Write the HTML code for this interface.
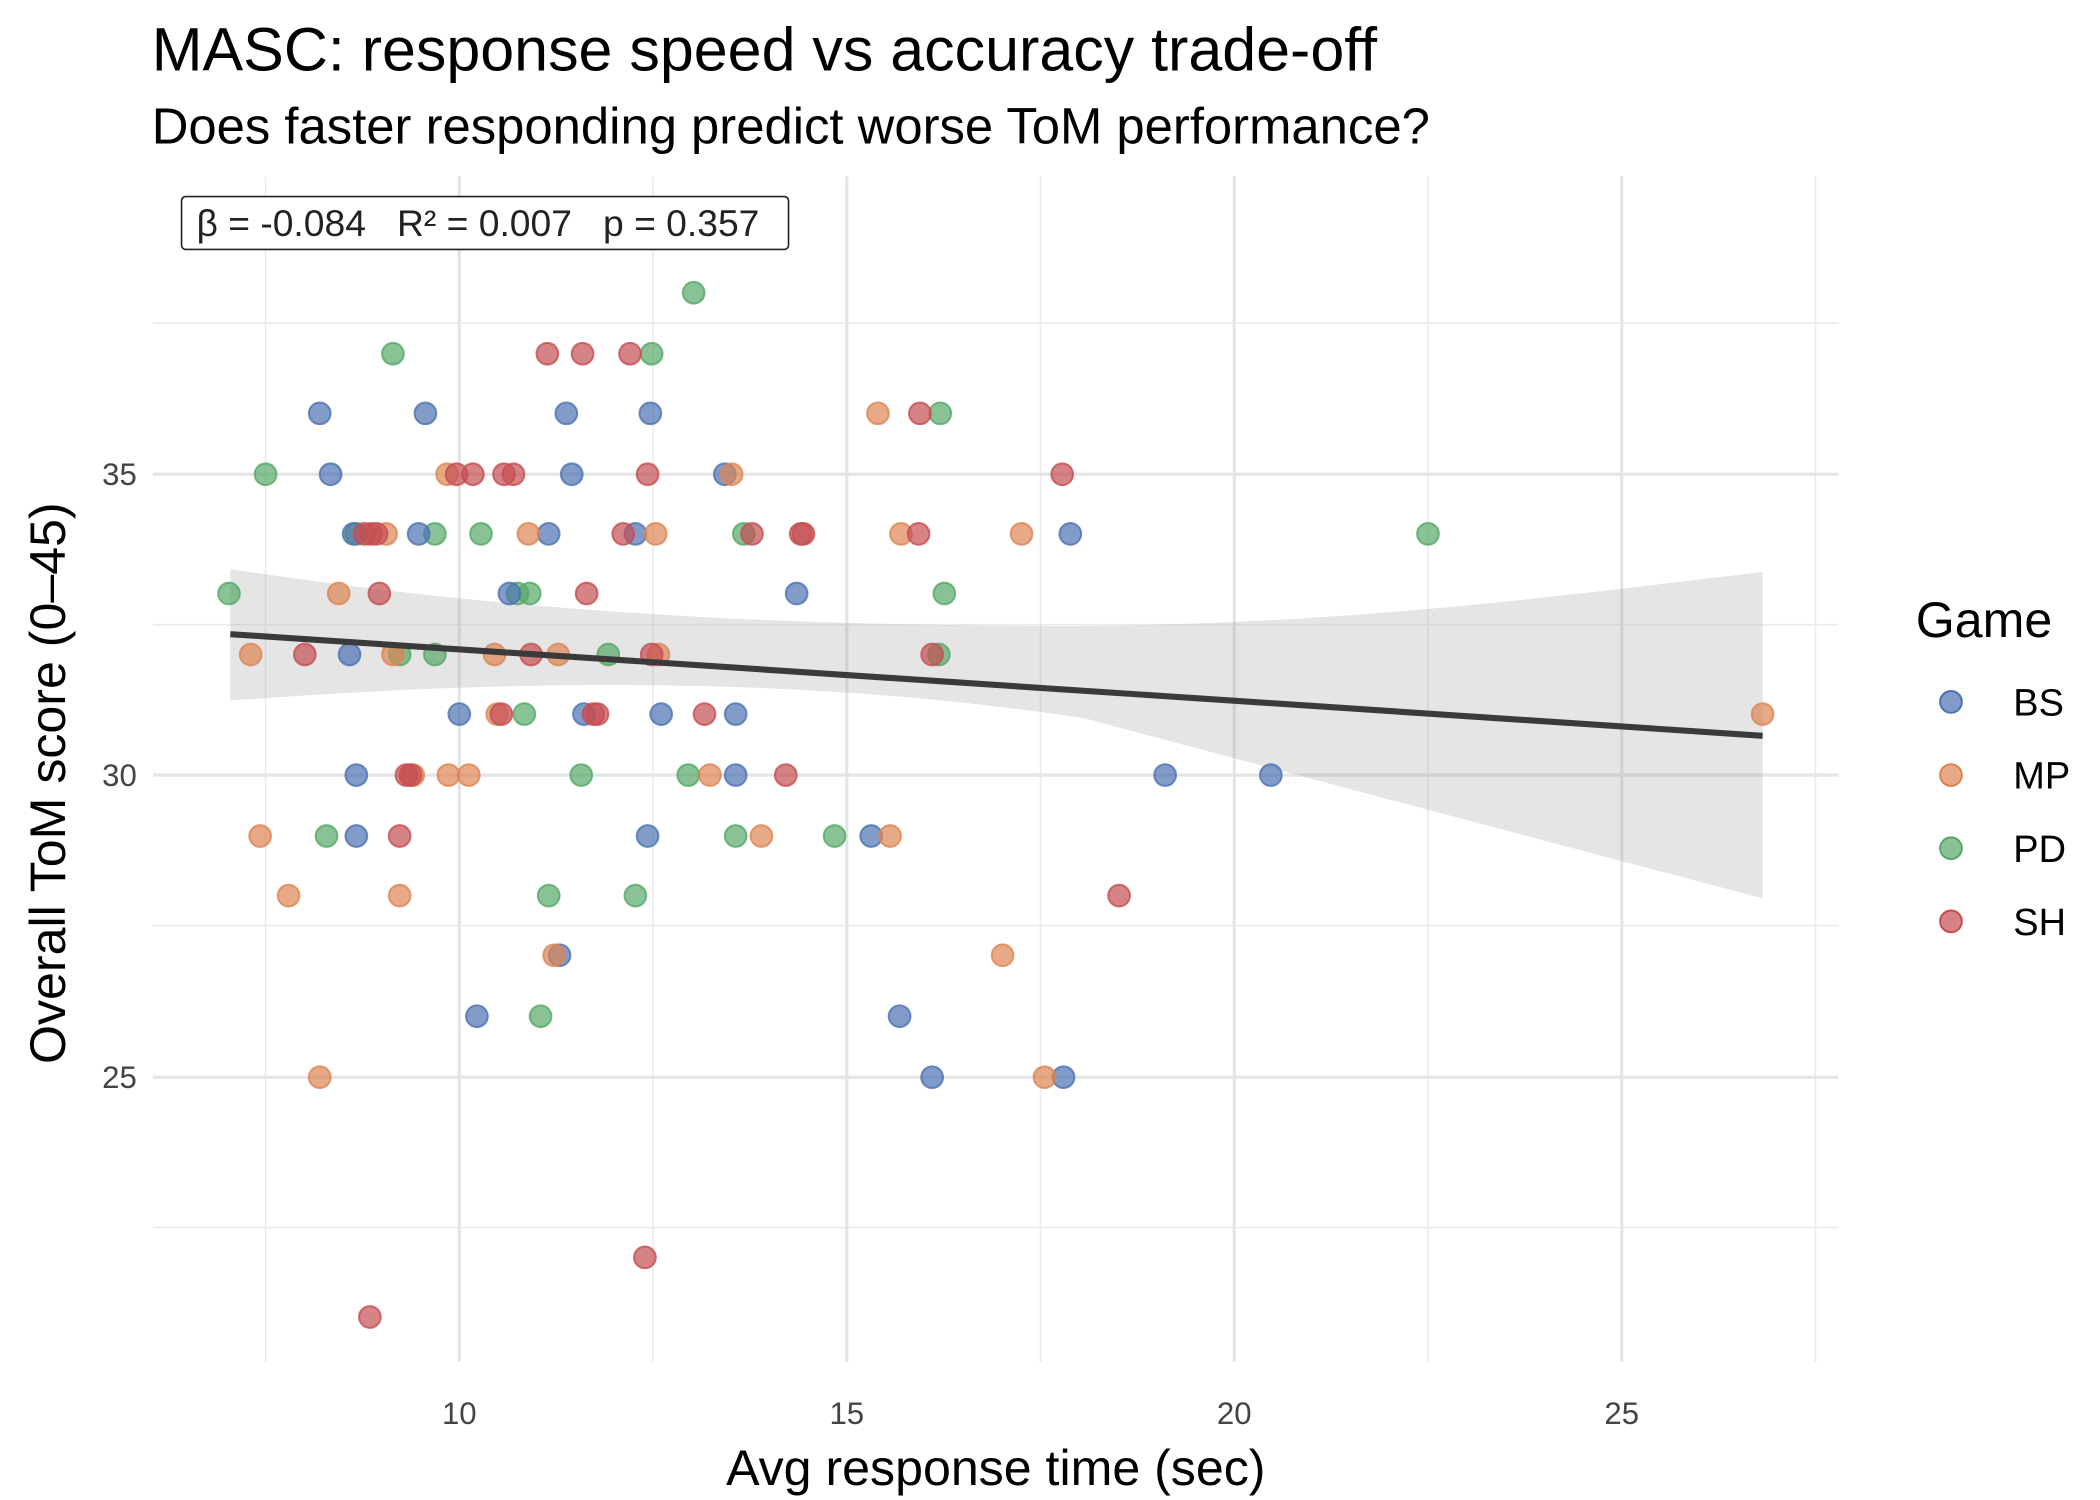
<!DOCTYPE html>
<html><head><meta charset="utf-8"><style>html,body{margin:0;padding:0;background:#fff}svg{display:block}</style></head>
<body>
<svg width="2100" height="1500" viewBox="0 0 1550 1107" xmlns="http://www.w3.org/2000/svg" font-family="Liberation Sans, Arial, sans-serif">
<rect width="1550" height="1107" fill="#fff"/>
<g stroke="#ebebeb" stroke-width="1.2">
<line x1="113" x2="1357" y1="238.5" y2="238.5"/><line x1="113" x2="1357" y1="461" y2="461"/><line x1="113" x2="1357" y1="683" y2="683"/><line x1="113" x2="1357" y1="906" y2="906"/>
<line x1="196" x2="196" y1="130" y2="1005"/><line x1="482" x2="482" y1="130" y2="1005"/><line x1="768" x2="768" y1="130" y2="1005"/><line x1="1054" x2="1054" y1="130" y2="1005"/><line x1="1340" x2="1340" y1="130" y2="1005"/>
</g>
<g stroke="#e5e5e5" stroke-width="2.4">
<line x1="113" x2="1357" y1="350" y2="350"/><line x1="113" x2="1357" y1="572" y2="572"/><line x1="113" x2="1357" y1="795" y2="795"/>
<line x1="339" x2="339" y1="130" y2="1005"/><line x1="625" x2="625" y1="130" y2="1005"/><line x1="911" x2="911" y1="130" y2="1005"/><line x1="1197" x2="1197" y1="130" y2="1005"/>
</g>
<path d="M170,420 C400,455 600,462 800,462 C1000,460 1150,440 1301,422 L1301,663 C1100,610 950,570 800,530 C600,500 400,500 170,517 Z" fill="#999" fill-opacity="0.25"/>
<g fill-opacity="0.7" stroke-opacity="0.8" stroke-width="1.5">
<g fill="#55A868" stroke="#55A868">
<circle cx="512" cy="216" r="8"/><circle cx="290" cy="261" r="8"/><circle cx="481" cy="261" r="8"/><circle cx="196" cy="350" r="8"/><circle cx="169" cy="438" r="8"/><circle cx="321" cy="394" r="8"/><circle cx="355" cy="394" r="8"/><circle cx="263" cy="394" r="8"/><circle cx="549" cy="394" r="8"/><circle cx="694" cy="305" r="8"/><circle cx="697" cy="438" r="8"/><circle cx="693" cy="483" r="8"/><circle cx="449" cy="483" r="8"/><circle cx="321" cy="483" r="8"/><circle cx="295" cy="483" r="8"/><circle cx="382" cy="438" r="8"/><circle cx="391" cy="438" r="8"/><circle cx="387" cy="527" r="8"/><circle cx="429" cy="572" r="8"/><circle cx="508" cy="572" r="8"/><circle cx="241" cy="617" r="8"/><circle cx="543" cy="617" r="8"/><circle cx="616" cy="617" r="8"/><circle cx="405" cy="661" r="8"/><circle cx="469" cy="661" r="8"/><circle cx="399" cy="750" r="8"/><circle cx="1054" cy="394" r="8"/>
</g>
<g fill="#4C72B0" stroke="#4C72B0">
<circle cx="236" cy="305" r="8"/><circle cx="244" cy="350" r="8"/><circle cx="314" cy="305" r="8"/><circle cx="418" cy="305" r="8"/><circle cx="480" cy="305" r="8"/><circle cx="261" cy="394" r="8"/><circle cx="309" cy="394" r="8"/><circle cx="405" cy="394" r="8"/><circle cx="469" cy="394" r="8"/><circle cx="535" cy="350" r="8"/><circle cx="422" cy="350" r="8"/><circle cx="790" cy="394" r="8"/><circle cx="588" cy="438" r="8"/><circle cx="376" cy="438" r="8"/><circle cx="258" cy="483" r="8"/><circle cx="339" cy="527" r="8"/><circle cx="431" cy="527" r="8"/><circle cx="488" cy="527" r="8"/><circle cx="543" cy="527" r="8"/><circle cx="263" cy="572" r="8"/><circle cx="543" cy="572" r="8"/><circle cx="263" cy="617" r="8"/><circle cx="478" cy="617" r="8"/><circle cx="643" cy="617" r="8"/><circle cx="413" cy="705" r="8"/><circle cx="352" cy="750" r="8"/><circle cx="664" cy="750" r="8"/><circle cx="688" cy="795" r="8"/><circle cx="785" cy="795" r="8"/><circle cx="860" cy="572" r="8"/><circle cx="938" cy="572" r="8"/>
</g>
<g fill="#DD8452" stroke="#DD8452">
<circle cx="330" cy="350" r="8"/><circle cx="390" cy="394" r="8"/><circle cx="285" cy="394" r="8"/><circle cx="484" cy="394" r="8"/><circle cx="540" cy="350" r="8"/><circle cx="648" cy="305" r="8"/><circle cx="665" cy="394" r="8"/><circle cx="754" cy="394" r="8"/><circle cx="250" cy="438" r="8"/><circle cx="185" cy="483" r="8"/><circle cx="365" cy="483" r="8"/><circle cx="412" cy="483" r="8"/><circle cx="486" cy="483" r="8"/><circle cx="367" cy="527" r="8"/><circle cx="331" cy="572" r="8"/><circle cx="346" cy="572" r="8"/><circle cx="305" cy="572" r="8"/><circle cx="524" cy="572" r="8"/><circle cx="192" cy="617" r="8"/><circle cx="562" cy="617" r="8"/><circle cx="657" cy="617" r="8"/><circle cx="213" cy="661" r="8"/><circle cx="295" cy="661" r="8"/><circle cx="409" cy="705" r="8"/><circle cx="740" cy="705" r="8"/><circle cx="236" cy="795" r="8"/><circle cx="771" cy="795" r="8"/><circle cx="1301" cy="527" r="8"/><circle cx="290" cy="483" r="8"/>
</g>
<g fill="#C44E52" stroke="#C44E52">
<circle cx="404" cy="261" r="8"/><circle cx="430" cy="261" r="8"/><circle cx="465" cy="261" r="8"/><circle cx="679" cy="305" r="8"/><circle cx="337" cy="350" r="8"/><circle cx="349" cy="350" r="8"/><circle cx="372" cy="350" r="8"/><circle cx="379" cy="350" r="8"/><circle cx="478" cy="350" r="8"/><circle cx="784" cy="350" r="8"/><circle cx="274" cy="394" r="8"/><circle cx="278" cy="394" r="8"/><circle cx="460" cy="394" r="8"/><circle cx="555" cy="394" r="8"/><circle cx="591" cy="394" r="8"/><circle cx="593" cy="394" r="8"/><circle cx="678" cy="394" r="8"/><circle cx="280" cy="438" r="8"/><circle cx="433" cy="438" r="8"/><circle cx="225" cy="483" r="8"/><circle cx="392" cy="483" r="8"/><circle cx="481" cy="483" r="8"/><circle cx="688" cy="483" r="8"/><circle cx="370" cy="527" r="8"/><circle cx="438" cy="527" r="8"/><circle cx="441" cy="527" r="8"/><circle cx="520" cy="527" r="8"/><circle cx="300" cy="572" r="8"/><circle cx="303" cy="572" r="8"/><circle cx="580" cy="572" r="8"/><circle cx="295" cy="617" r="8"/><circle cx="826" cy="661" r="8"/><circle cx="476" cy="928" r="8"/><circle cx="273" cy="972" r="8"/><circle cx="269" cy="394" r="8"/>
</g>
</g>
<line x1="170" y1="468" x2="1301" y2="543" stroke="#3a3a3a" stroke-width="4.5"/>
<rect x="134" y="145" width="448" height="39" rx="3" fill="#fff" stroke="#222" stroke-width="1.2"/>
<text x="145" y="174" font-size="27.5" fill="#222" xml:space="preserve" style="white-space:pre">β = -0.084   R² = 0.007   p = 0.357</text>
<g font-size="23" fill="#444" text-anchor="middle">
<text x="339" y="1051">10</text><text x="625" y="1051">15</text><text x="911" y="1051">20</text><text x="1197" y="1051">25</text>
</g>
<g font-size="23" fill="#444" text-anchor="end">
<text x="101" y="358">35</text><text x="101" y="580">30</text><text x="101" y="803">25</text>
</g>
<text x="735" y="1096" font-size="37" text-anchor="middle" fill="#000">Avg response time (sec)</text>
<text transform="translate(48,578) rotate(-90)" font-size="37" text-anchor="middle" fill="#000">Overall ToM score (0–45)</text>
<text x="112" y="52" font-size="45" fill="#000">MASC: response speed vs accuracy trade-off</text>
<text x="112" y="106" font-size="37.5" fill="#000">Does faster responding predict worse ToM performance?</text>
<text x="1414" y="470" font-size="37" fill="#000">Game</text>
<g fill-opacity="0.7" stroke-width="1.5">
<circle cx="1440" cy="518" r="8" fill="#4C72B0" stroke="#4C72B0"/><circle cx="1440" cy="572" r="8" fill="#DD8452" stroke="#DD8452"/><circle cx="1440" cy="626" r="8" fill="#55A868" stroke="#55A868"/><circle cx="1440" cy="680" r="8" fill="#C44E52" stroke="#C44E52"/>
</g>
<g font-size="28" fill="#000">
<text x="1486" y="528">BS</text><text x="1486" y="582">MP</text><text x="1486" y="636">PD</text><text x="1486" y="690">SH</text>
</g>
</svg>
</body></html>
